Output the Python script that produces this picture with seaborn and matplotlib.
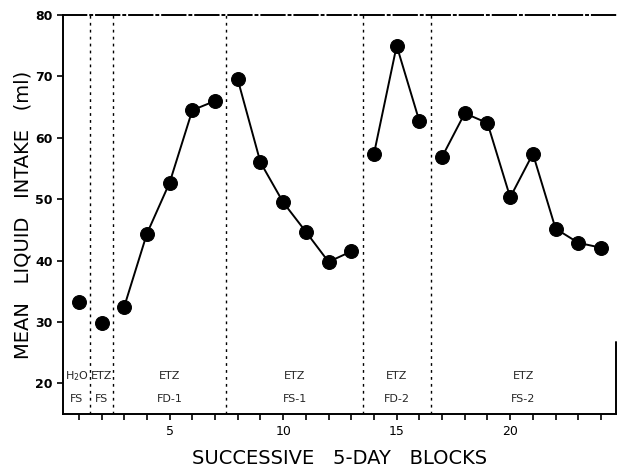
import numpy as np
import pandas as pd
import seaborn as sns
import matplotlib
matplotlib.use("Agg")
import matplotlib.pyplot as plt

# mean liquid intake (ml) per successive 5-day block
blocks = list(range(1, 25))
intake = [33.3, 29.8, 32.5, 44.4, 52.7, 64.5, 66.0, 69.5, 56.0, 49.5, 44.7, 39.8,
          41.5, 57.4, 75.0, 62.7, 56.9, 64.0, 62.4, 50.3, 57.4, 45.2, 42.9, 42.1]
phase = ["H2O FS"] + ["ETZ FS"] + ["ETZ FD-1"] * 5 + ["ETZ FS-1"] * 6 + \
        ["ETZ FD-2"] * 3 + ["ETZ FS-2"] * 8

# phase boundaries and labels
bounds = [1.5, 2.5, 7.5, 13.5, 16.5]
top_labels = ["H$_2$O", "ETZ", "ETZ", "ETZ", "ETZ", "ETZ"]
bot_labels = ["FS", "FS", "FD-1", "FS-1", "FD-2", "FS-2"]

df = pd.DataFrame({"block": blocks, "intake": intake, "phase": phase})

sns.set_style("ticks")
plt.rcParams["font.family"] = ["DejaVu Sans"]

fig = plt.figure(figsize=(6.17, 4.69), dpi=100)
ax = fig.add_axes([0.102, 0.117, 0.896, 0.851])

sns.lineplot(data=df, x="block", y="intake", units="phase", estimator=None,
             color="black", marker="o", markersize=10, markeredgecolor="black",
             linewidth=1.4, ax=ax, legend=False)

xmin, xmax = 0.3, 24.65
ax.set_xlim(xmin, xmax)
ax.set_ylim(15, 80)

for b in bounds:
    ax.axvline(b, color="black", linestyle=(0, (2, 3)), linewidth=1.0)

edges = [xmin] + bounds + [xmax]
for i in range(len(top_labels)):
    cx = (edges[i] + edges[i + 1]) / 2
    ax.text(cx, 21.2, top_labels[i], ha="center", va="center", fontsize=8)
    ax.text(cx, 17.5, bot_labels[i], ha="center", va="center", fontsize=8)

ax.set_xticks(range(1, 25))
ax.set_xticklabels([str(v) if v % 5 == 0 else "" for v in range(1, 25)])
ax.set_yticks(range(20, 81, 10))
ax.tick_params(axis="both", direction="out", length=4, width=1.2,
               labelsize=9, colors="black")
for lab in ax.get_yticklabels():
    lab.set_fontweight("bold")

for side in ["left", "bottom", "top"]:
    ax.spines[side].set_linewidth(1.4)
    ax.spines[side].set_color("black")
ax.spines["top"].set_linestyle((0, (12, 2, 1, 2)))
ax.spines["right"].set_visible(False)
ax.plot([1, 1], [0, 0.18], transform=ax.transAxes, color="black",
        linewidth=1.4, clip_on=False)

ax.set_xlabel("SUCCESSIVE   5-DAY   BLOCKS", fontsize=14, labelpad=8,
              color="black")
ax.set_ylabel("MEAN   LIQUID   INTAKE   (ml)", fontsize=14, labelpad=2,
              color="black")

fig.savefig("out.png", dpi=100)
